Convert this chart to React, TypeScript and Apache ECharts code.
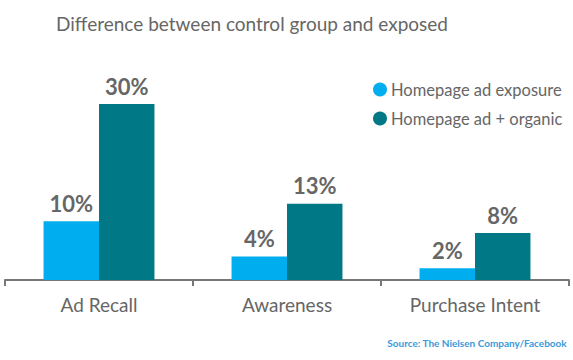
import React, { useEffect, useRef } from "react";
import * as echarts from "echarts";

const categories = ["Ad Recall", "Awareness", "Purchase Intent"];
const seriesNames = ["Homepage ad exposure", "Homepage ad + organic"];
const exposure = [10, 4, 2];
const organic = [30, 13, 8];
const colors = ["#00aeef", "#007886"];
const FONT = "Lato";

export default function App() {
  const ref = useRef<HTMLDivElement>(null);
  useEffect(() => {
    if (!ref.current) return;
    const chart = echarts.init(ref.current, undefined, { renderer: "svg" });
    const label = {
      show: true,
      position: "top",
      distance: 7,
      formatter: "{c}%",
      fontFamily: FONT,
      fontSize: 22,
      fontWeight: "bold",
      color: "#666666",
    };
    chart.setOption({
      animation: false,
      textStyle: { fontFamily: FONT },
      title: {
        text: "Difference between control group and exposed",
        left: 51,
        top: 9,
        textStyle: { fontFamily: FONT, fontSize: 19, fontWeight: "normal", color: "#666666" },
      },
      legend: {
        orient: "vertical",
        left: 368,
        top: 76,
        icon: "circle",
        itemWidth: 14,
        itemHeight: 14,
        itemGap: 12,
        textStyle: { fontFamily: FONT, fontSize: 16.5, color: "#666666", padding: [0, 0, 0, -1] },
        data: seriesNames,
      },
      grid: { left: 5, right: 4, top: 104, bottom: 80 },
      xAxis: {
        type: "category",
        data: categories,
        axisLine: { lineStyle: { color: "#777777", width: 2 } },
        axisTick: { show: true, length: 6, lineStyle: { color: "#777777", width: 2 } },
        axisLabel: { fontFamily: FONT, fontSize: 19, color: "#666666", margin: 15 },
      },
      yAxis: {
        type: "value",
        min: 0,
        max: 30,
        show: false,
        splitLine: { show: false },
      },
      series: [
        {
          name: seriesNames[0],
          type: "bar",
          data: exposure,
          itemStyle: { color: colors[0] },
          barGap: "0%",
          barCategoryGap: "41%",
          label,
        },
        {
          name: seriesNames[1],
          type: "bar",
          data: organic,
          itemStyle: { color: colors[1] },
          barGap: "0%",
          barCategoryGap: "41%",
          label,
        },
      ],
      graphic: [
        {
          type: "text",
          right: 6,
          top: 338,
          style: {
            text: "Source: The Nielsen Company/Facebook",
            fontFamily: FONT,
            fontSize: 10,
            fontWeight: "bold",
            fill: "#3a9ad9",
          },
        },
      ],
    });
    return () => chart.dispose();
  }, []);
  return (
    <div
      ref={ref}
      style={{ position: "absolute", left: 0, top: 0, width: 573, height: 360 }}
    />
  );
}
